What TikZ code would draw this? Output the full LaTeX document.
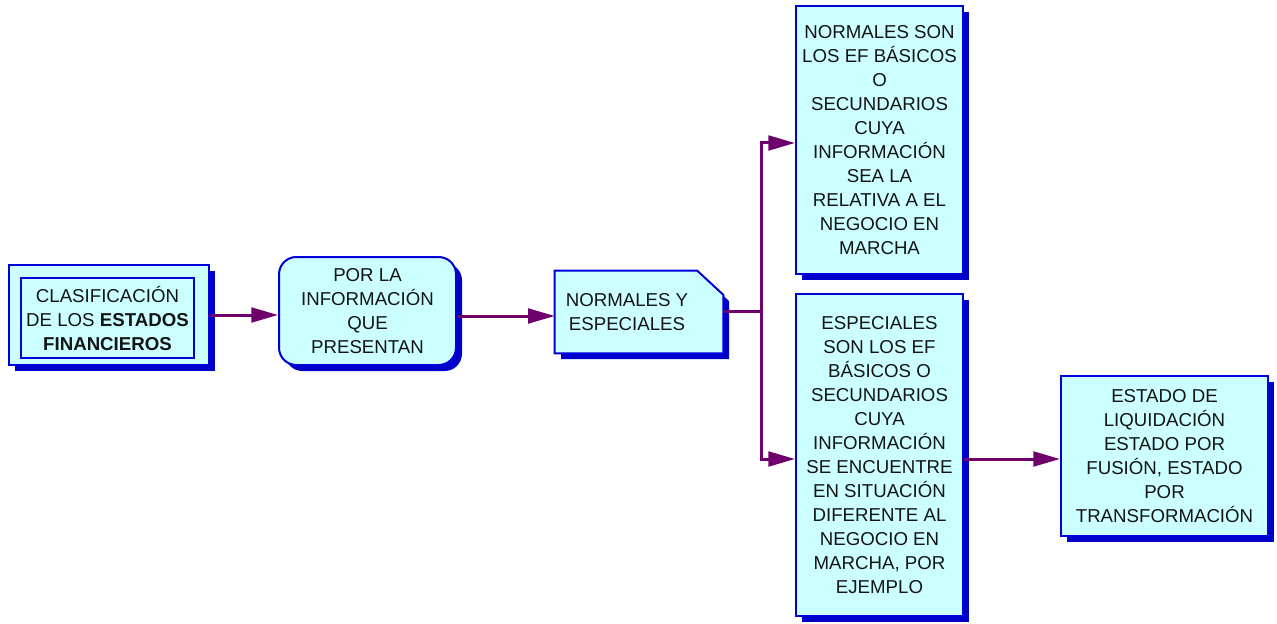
\documentclass[tikz,border=0pt]{standalone}
\usepackage{fontspec}
\setmainfont{Liberation Sans}
\usetikzlibrary{shadows,arrows.meta}
\definecolor{boxfill}{RGB}{204,255,255}
\definecolor{boxline}{RGB}{0,0,220}
\definecolor{shadowblue}{RGB}{0,0,200}
\definecolor{arrowpurple}{RGB}{110,0,110}
\definecolor{txt}{RGB}{20,20,20}
\tikzset{
  box/.style={draw=boxline, line width=1.5pt, fill=boxfill, inner sep=0pt, align=center,
    text=txt, font=\fontsize{14pt}{18pt}\selectfont,
    drop shadow={shadow xshift=4.5pt, shadow yshift=-4.5pt, fill=shadowblue, opacity=1}},
  plainbox/.style={draw=boxline, line width=1.5pt, fill=boxfill, inner sep=0pt, align=center,
    text=txt, font=\fontsize{14pt}{18pt}\selectfont},
  lbl/.style={inner sep=0pt, align=center, text=txt, font=\fontsize{14pt}{18pt}\selectfont},
  arr/.style={draw=arrowpurple, line width=2.25pt, -{Triangle[length=20pt,width=11pt]}},
  conn/.style={draw=arrowpurple, line width=2.25pt}
}
\begin{document}
\begin{tikzpicture}[x=0.75pt,y=-0.75pt]
\useasboundingbox (0,0) rectangle (1277,624);
% box 1
\node[box, minimum width=150pt, minimum height=75pt] (b1) at (109,315) {};
\node[plainbox, minimum width=129.75pt, minimum height=60pt] (b1i) at (107.5,318)
  {CLASIFICACIÓN\\DE LOS \textbf{ESTADOS}\\\textbf{FINANCIEROS}};
% box 2
\node[box, rounded corners=13pt, minimum width=132.75pt, minimum height=81pt] (b2) at (367.5,311)
  {POR LA\\INFORMACIÓN\\QUE\\PRESENTAN};
% box 3 (tag shape)
\node[inner sep=0pt, minimum width=126pt, minimum height=61.5pt] (b3) at (639,312) {};
\fill[shadowblue] (561,359) -- (561,277) -- (703,277) -- (729,301) -- (729,359) -- cycle;
\filldraw[draw=boxline, line width=1.5pt, fill=boxfill] (b3.south west) -- (b3.north west)
  -- ([xshift=-19.5pt]b3.north east) -- ([yshift=-18pt]b3.north east) -- (b3.south east) -- cycle;
\node[lbl] (b3t) at (627,312) {NORMALES Y\\ESPECIALES};
% box 4
\node[box, minimum width=125.25pt, minimum height=201pt] (b4) at (879.5,140)
  {NORMALES SON\\LOS EF BÁSICOS\\O\\SECUNDARIOS\\CUYA\\INFORMACIÓN\\SEA LA\\RELATIVA A EL\\NEGOCIO EN\\MARCHA};
% box 5
\node[box, minimum width=125.25pt, minimum height=241.5pt] (b5) at (879.5,455)
  {ESPECIALES\\SON LOS EF\\BÁSICOS O\\SECUNDARIOS\\CUYA\\INFORMACIÓN\\SE ENCUENTRE\\EN SITUACIÓN\\DIFERENTE AL\\NEGOCIO EN\\MARCHA, POR\\EJEMPLO};
% box 6
\node[box, minimum width=155.25pt, minimum height=120pt] (b6) at (1164.5,456)
  {ESTADO DE\\LIQUIDACIÓN\\ESTADO POR\\FUSIÓN, ESTADO\\POR\\TRANSFORMACIÓN};
% connectors
\coordinate (j) at (761,311);
\coordinate (jt) at (761,143);
\coordinate (jb) at (761,459);
\draw[arr] (b1.east) -- (b1.east -| b2.west);
\draw[arr] ([yshift=-3.75pt]b2.east) -- ([yshift=-3.75pt]b2.east -| b3.west);
\draw[conn] (b3.east |- j) -- (j);
\draw[conn, line cap=rect] (jt) -- (jb);
\draw[arr] (jt) -- (jt -| b4.west);
\draw[arr] (jb) -- (jb -| b5.west);
\draw[arr] ([yshift=-3pt]b5.east) -- ([yshift=-3pt]b5.east -| b6.west);
\end{tikzpicture}
\end{document}
